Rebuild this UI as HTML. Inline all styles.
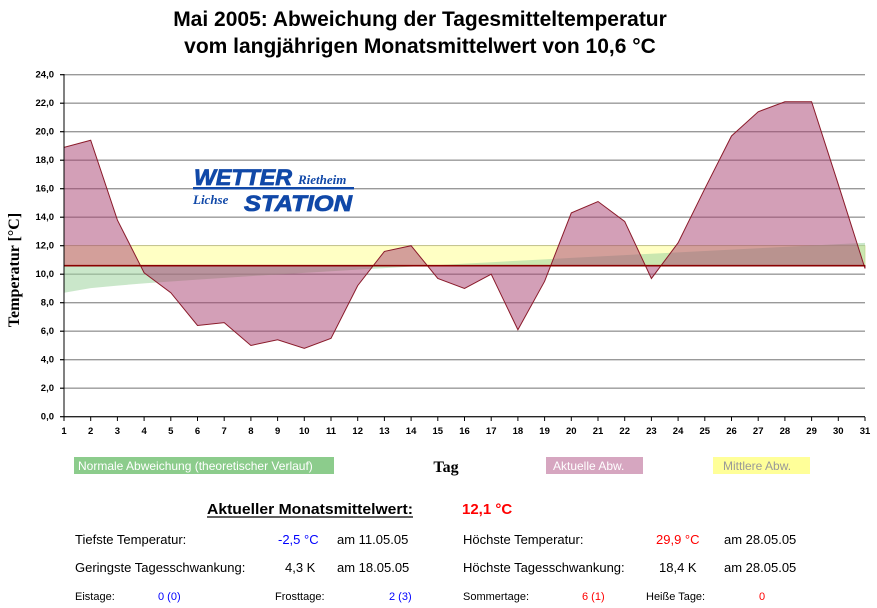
<!DOCTYPE html>
<html><head><meta charset="utf-8"><style>
body{margin:0;background:#fff;width:877px;height:608px;overflow:hidden;font-family:"Liberation Sans",sans-serif}
svg{position:absolute;left:0;top:0}
</style></head><body>
<svg width="877" height="608" xmlns="http://www.w3.org/2000/svg" font-family="Liberation Sans, sans-serif">
<text x="420" y="26" text-anchor="middle" font-size="21" font-weight="bold">Mai 2005: Abweichung der Tagesmitteltemperatur</text>
<text x="420" y="53" text-anchor="middle" font-size="21" font-weight="bold">vom langjährigen Monatsmittelwert von 10,6 °C</text>
<g id="grid" stroke="#999" stroke-width="1.3"></g>
<rect id="yel" fill="#ffffc4" stroke="#d8d890" stroke-width="0.8"/>
<path id="grn" fill="#9fd49f" fill-opacity="0.55"/>
<path id="act" fill="#a8406f" fill-opacity="0.5" stroke="#8a1a2a" stroke-width="1"/>
<line id="base" stroke="#8a0000" stroke-width="1.6"/>
<g id="axes" stroke="#000" stroke-width="1"></g>
<g id="lbl" font-size="9.5" font-weight="bold"></g>
<text transform="translate(19,270) rotate(-90)" text-anchor="middle" font-family="Liberation Serif, serif" font-weight="bold" font-size="16">Temperatur [°C]</text>
<g font-family="Liberation Sans, sans-serif" font-style="italic" font-weight="bold" fill="#1048a8">
<text x="194" y="185" font-size="22" textLength="98" lengthAdjust="spacingAndGlyphs" stroke="#1048a8" stroke-width="0.8">WETTER</text>
<text x="298" y="184" font-size="13" font-family="Liberation Serif, serif">Rietheim</text>
<rect x="193" y="187" width="161" height="2.5" fill="#1048a8"/>
<text x="193" y="204" font-size="13" font-family="Liberation Serif, serif">Lichse</text>
<text x="244" y="211" font-size="22" textLength="108" lengthAdjust="spacingAndGlyphs" stroke="#1048a8" stroke-width="0.8">STATION</text>
</g>
<rect x="74" y="457" width="260" height="17" fill="#8ccc8c"/>
<text x="78" y="470" font-size="12" fill="#fff">Normale Abweichung (theoretischer Verlauf)</text>
<text x="446" y="472" font-size="16" font-weight="bold" text-anchor="middle" font-family="Liberation Serif, serif">Tag</text>
<rect x="546" y="457" width="97" height="17" fill="#d6a6c0"/>
<text x="553" y="470" font-size="12" fill="#fff">Aktuelle Abw.</text>
<rect x="713" y="457" width="97" height="17" fill="#ffff99"/>
<text x="723" y="470" font-size="12" fill="#999">Mittlere Abw.</text>
<g font-size="13">
<text x="207" y="514" font-size="15" font-weight="bold" textLength="206" lengthAdjust="spacingAndGlyphs">Aktueller Monatsmittelwert:</text>
<line x1="207" y1="517" x2="413" y2="517" stroke="#000" stroke-width="1.3"/>
<text x="462" y="514" font-size="15" font-weight="bold" fill="#f00">12,1 °C</text>
<text x="75" y="544">Tiefste Temperatur:</text>
<text x="278" y="544" fill="#00f">-2,5 °C</text>
<text x="337" y="544">am 11.05.05</text>
<text x="463" y="544">Höchste Temperatur:</text>
<text x="656" y="544" fill="#f00">29,9 °C</text>
<text x="724" y="544">am 28.05.05</text>
<text x="75" y="572">Geringste Tagesschwankung:</text>
<text x="285" y="572">4,3 K</text>
<text x="337" y="572">am 18.05.05</text>
<text x="463" y="572">Höchste Tagesschwankung:</text>
<text x="659" y="572">18,4 K</text>
<text x="724" y="572">am 28.05.05</text>
<g font-size="11">
<text x="75" y="600">Eistage:</text><text x="158" y="600" fill="#00f">0 (0)</text>
<text x="275" y="600">Frosttage:</text><text x="389" y="600" fill="#00f">2 (3)</text>
<text x="463" y="600">Sommertage:</text><text x="582" y="600" fill="#f00">6 (1)</text>
<text x="646" y="600">Heiße Tage:</text><text x="759" y="600" fill="#f00">0</text>
</g></g>
</svg>
<script>
var X=d=>64+(d-1)*801/30, Y=v=>416.7-v*14.25, NS="http://www.w3.org/2000/svg";
function el(p,t,a,txt){var e=document.createElementNS(NS,t);for(var k in a)e.setAttribute(k,a[k]);if(txt)e.textContent=txt;document.getElementById(p).appendChild(e);}
for(var v=0;v<=24;v+=2){el('grid','line',{x1:60,x2:865,y1:Y(v),y2:Y(v)});el('lbl','text',{x:54,y:Y(v)+3,'text-anchor':'end'},v.toFixed(1).replace('.',','));el('axes','line',{x1:60,x2:64,y1:Y(v),y2:Y(v)});}
el('axes','line',{x1:64,x2:64,y1:74,y2:417});el('axes','line',{x1:64,x2:865,y1:416.7,y2:416.7});
for(var d=1;d<=31;d++){el('axes','line',{x1:X(d),x2:X(d),y1:417,y2:421});el('lbl','text',{x:X(d),y:434,'text-anchor':'middle'},d);}
var y=document.getElementById('yel');y.setAttribute('x',64);y.setAttribute('width',801);y.setAttribute('y',Y(12));y.setAttribute('height',Y(10.6)-Y(12));
var g='M'+X(1)+','+Y(10.6);for(var d=1;d<=31;d++){var t=(d-1)/30;g+=' L'+X(d)+','+Y(8.7+3.5*(0.6*t+0.4*Math.sqrt(t)));}g+=' L'+X(31)+','+Y(10.6)+'Z';
document.getElementById('grn').setAttribute('d',g);
var D=[18.9,19.4,13.8,10.1,8.7,6.4,6.6,5.0,5.4,4.8,5.5,9.2,11.6,12.0,9.7,9.0,10.0,6.1,9.5,14.3,15.1,13.7,9.7,12.2,16.0,19.7,21.4,22.1,22.1,16.3,10.4];
var p='M'+X(1)+','+Y(10.6);D.forEach((v,i)=>p+=' L'+X(i+1)+','+Y(v));p+=' L'+X(31)+','+Y(10.6)+'Z';
document.getElementById('act').setAttribute('d',p);
var b=document.getElementById('base');b.setAttribute('x1',64);b.setAttribute('x2',865);b.setAttribute('y1',Y(10.6));b.setAttribute('y2',Y(10.6));
</script>
</body></html>
